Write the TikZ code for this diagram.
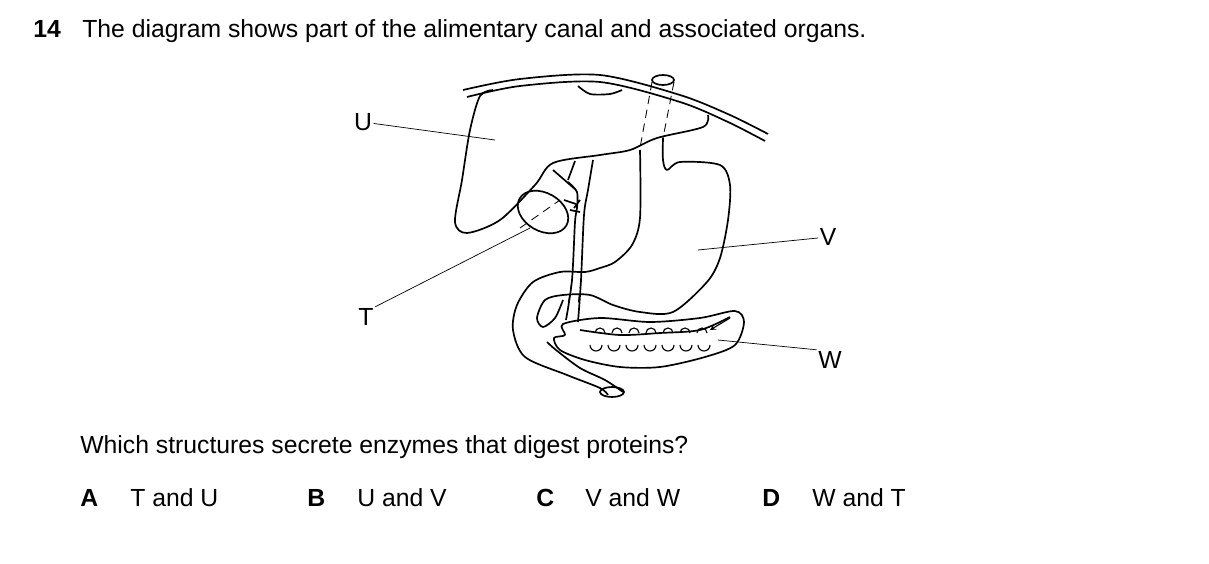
\documentclass[tikz,border=0pt]{standalone}
\usepackage{fontspec}
\setmainfont{Liberation Sans}
\usetikzlibrary{positioning}
\tikzset{
  organ/.style={line width=1.2pt, line join=round},
  hidden/.style={line width=0.6pt, dash pattern=on 6pt off 4pt},
  pointer/.style={line width=0.5pt},
  txt/.style={anchor=base west, inner sep=0pt, font=\fontsize{17.6}{20}\selectfont},
  lbl/.style={inner sep=1pt, font=\fontsize{17.6}{20}\selectfont}
}
\begin{document}
\begin{tikzpicture}[x=0.025cm,y=-0.025cm]
            \useasboundingbox (0,0) rectangle (1209,564);
            % question text
            \node[txt] (num)   at (33,38)  {\textbf{14}};
            \node[txt] (title) at (82,38)  {The diagram shows part of the alimentary canal and associated organs.};
            \node[txt] (ques)  at (80,453) {Which structures secrete enzymes that digest proteins?};
            \node[txt] (optA)  at (80,506)  {\textbf{A}}; \node[txt] (ansA) at (130,506) {T and U};
            \node[txt] (optB)  at (307,506) {\textbf{B}}; \node[txt] (ansB) at (357,506) {U and V};
            \node[txt] (optC)  at (536,506) {\textbf{C}}; \node[txt] (ansC) at (585,506) {V and W};
            \node[txt] (optD)  at (762,506) {\textbf{D}}; \node[txt] (ansD) at (812,506) {W and T};
            % diaphragm
            \draw[organ] plot[smooth] coordinates {(463,90) (520,79) (600,75) (680,95) (730,115) (768,134)};
            \draw[organ] plot[smooth] coordinates {(467,97) (520,86) (600,82) (680,102) (728,122) (765,141)};
            % liver
            \draw[organ] plot[smooth] coordinates {(493,90) (480,96) (470,130) (462,180) (455,222) (467,233)
                 (500,220) (535,185) (553,163) (600,155) (630,150) (657,138) (703,127) (708,115)};
            \draw[organ] plot[smooth] coordinates {(578,86) (590,94) (610,94) (622,90)};
            % gall bladder and bile ducts
            \draw[organ, rotate around={-30:(543,212)}] (543,212) ellipse (27 and 19);
            \draw[organ] (553,170) -- (576,190) (575,161) -- (568,180)
                 (574,208) -- (580,200) plot[smooth] coordinates {(568,182) (577,192) (577,208) (575,222) (572,280) (566,320)};
            \draw[organ] plot[smooth] coordinates {(593,160) (588,190) (584,215) (581,280) (578,322)};
            \draw[organ] (570,210) -- (580,212) (564,200) -- (576,204);
            \draw[hidden] (520,228) -- (560,200);
            % oesophagus and stomach
            \draw[organ] (663,80) ellipse (11 and 5);
            \draw[hidden] (652,82) -- (640,148) (674,82) -- (663,138);
            \draw[organ] plot[smooth] coordinates {(663,138) (663,160) (667,170) (680,162) (720,165) (730,185)
                 (728,220) (720,258) (707,282) (673,312) (640,312) (613,305) (590,295) (563,295)
                 (545,300) (537,318) (543,327) (555,318) (563,300)};
            \draw[organ] plot[smooth] coordinates {(640,150) (640,218) (632,245) (615,262) (600,268) (585,272)
                 (560,272) (533,282) (517,305) (513,330) (525,357) (567,375) (600,388) (608,395)};
            \draw[organ] plot[smooth] coordinates {(547,342) (556,350) (580,368) (605,380) (623,392)};
            \draw[organ] (612,392) ellipse (12 and 5);
            \draw[hidden] (572,280) -- (568,305) (581,280) -- (578,305);
            % pancreas
            \draw[organ] plot[smooth cycle] coordinates {(563,324) (600,318) (650,322) (700,318) (735,311) (744,322)
                 (735,345) (705,357) (660,367) (620,367) (585,360) (560,350) (554,338) (565,335)};
            \draw[organ] plot[smooth] coordinates {(580,330) (620,335) (660,333) (700,330) (730,317)};
            \foreach \i in {0,...,6} {
              \draw[line width=0.8pt] (590+\i*18,345) arc (180:0:6);
              \draw[line width=0.8pt] (595+\i*17,333) arc (-180:0:5);
            }
            \draw[line width=0.8pt, -stealth] (730,318) -- (710,330);
            % labels
            \node[lbl] (U) at (363,122) {U};
            \node[lbl] (T) at (366,317) {T};
            \node[lbl] (V) at (828,237) {V};
            \node[lbl] (W) at (830,360) {W};
            \coordinate (liver) at (495,140);
            \coordinate (gall) at (530,228);
            \coordinate (stomach) at (698,250);
            \coordinate (pancreas) at (718,340);
            \draw[pointer] (U) -- (liver);
            \draw[pointer] (T.north east) -- (gall);
            \draw[pointer] (V) -- (stomach);
            \draw[pointer] (W.north west) -- (pancreas);
\end{tikzpicture}
\end{document}
